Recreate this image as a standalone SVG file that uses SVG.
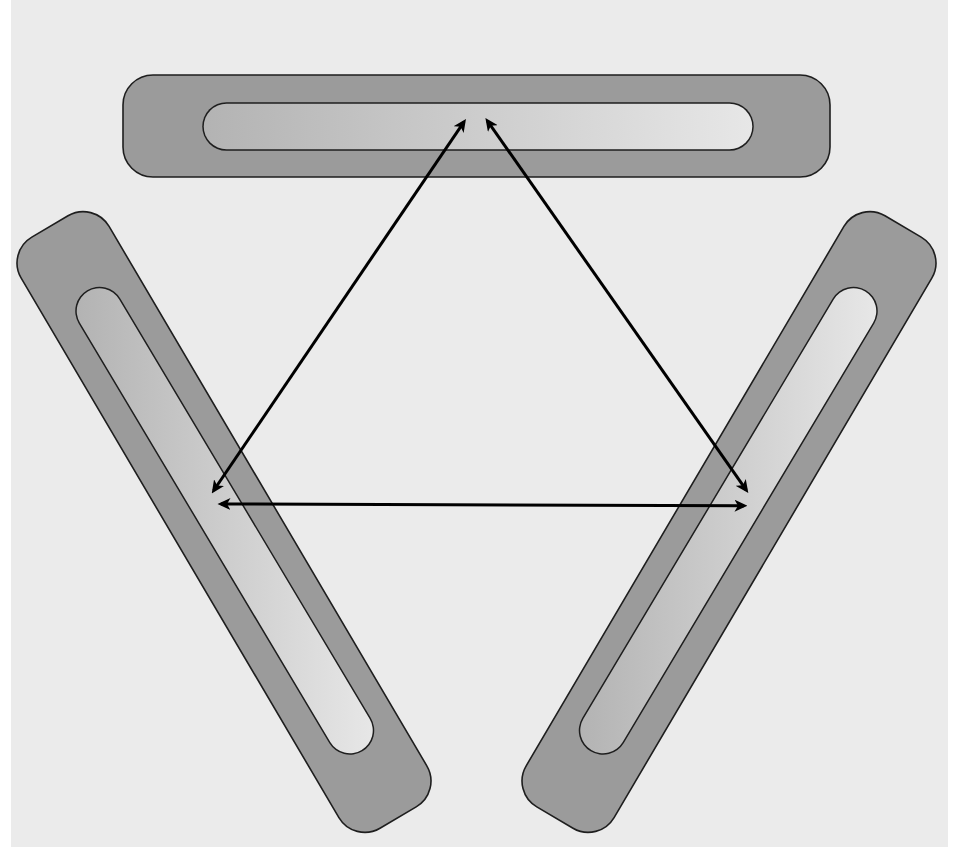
<svg xmlns="http://www.w3.org/2000/svg" width="954" height="847" viewBox="0 0 954 847">
<defs>
<style>
.outer{fill:#9b9b9b;stroke:#1e1e1e;stroke-width:1.6}
.pillEdge{stroke:#1e1e1e;stroke-width:48.5;stroke-linecap:round;fill:none}
.pillFill{stroke-width:45.5;stroke-linecap:round;fill:none}
.conn{stroke:#000;stroke-width:3;fill:none;marker-start:url(#ah);marker-end:url(#ah)}
</style>
<linearGradient id="gTop" gradientUnits="userSpaceOnUse" x1="203" y1="0" x2="753" y2="0">
<stop offset="0" stop-color="#b3b3b3"/><stop offset="1" stop-color="#e7e7e7"/>
</linearGradient>
<linearGradient id="gLeft" gradientUnits="userSpaceOnUse" x1="76" y1="0" x2="374" y2="0">
<stop offset="0" stop-color="#b3b3b3"/><stop offset="1" stop-color="#e7e7e7"/>
</linearGradient>
<linearGradient id="gRight" gradientUnits="userSpaceOnUse" x1="579" y1="0" x2="877" y2="0">
<stop offset="0" stop-color="#b3b3b3"/><stop offset="1" stop-color="#e7e7e7"/>
</linearGradient>
<marker id="ah" viewBox="0 0 13 12" refX="9.5" refY="6" markerWidth="13" markerHeight="12" markerUnits="userSpaceOnUse" orient="auto-start-reverse">
<path d="M0,0 L13,6 L0,12 L3.5,6 Z" fill="#000"/>
</marker>
</defs>
<rect x="0" y="0" width="954" height="847" fill="#ffffff"/>
<rect x="11" y="0" width="937" height="847" fill="#ebebeb"/>
<g id="node-top">
<rect class="outer" x="123" y="75" width="707" height="102" rx="30" ry="30"/>
<line class="pillEdge" x1="226.5" y1="126.5" x2="729.5" y2="126.5"/>
<line class="pillFill" x1="226.5" y1="126.5" x2="729.5" y2="126.5" stroke="url(#gTop)"/>
</g>
<g id="node-left">
<rect class="outer" x="-343" y="-51" width="686" height="102" rx="30" ry="30" transform="translate(224 522) rotate(59.5)"/>
<line class="pillEdge" x1="99.5" y1="311" x2="350" y2="730.5"/>
<line class="pillFill" x1="99.5" y1="311" x2="350" y2="730.5" stroke="url(#gLeft)"/>
</g>
<g id="node-right">
<rect class="outer" x="-343" y="-51" width="686" height="102" rx="30" ry="30" transform="translate(729 522) rotate(-59.5)"/>
<line class="pillEdge" x1="853.5" y1="311" x2="603" y2="730.5"/>
<line class="pillFill" x1="853.5" y1="311" x2="603" y2="730.5" stroke="url(#gRight)"/>
</g>
<g id="connectors">
<line class="conn" x1="213.7" y1="490.5" x2="464" y2="121.8"/>
<line class="conn" x1="487.4" y1="120.8" x2="746.3" y2="490.2"/>
<line class="conn" x1="221" y1="504" x2="744" y2="505.7"/>
</g>
</svg>
